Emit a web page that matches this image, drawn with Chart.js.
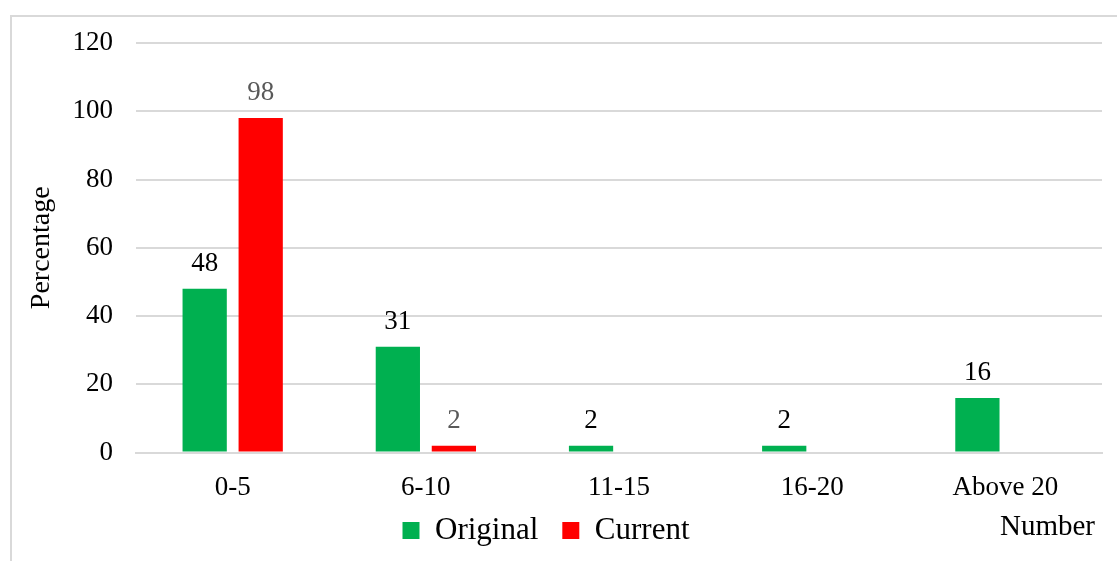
<!DOCTYPE html>
<html>
<head>
<meta charset="utf-8">
<script src="https://cdn.jsdelivr.net/npm/chart.js@4/dist/chart.umd.min.js"></script>
<style>
  html, body { margin: 0; padding: 0; background: #fff; }
  #wrap { width: 1117px; height: 561px; position: relative; }
</style>
</head>
<body>
<div id="wrap"><canvas id="myChart"></canvas></div>
<script>
const categories = ["0-5", "6-10", "11-15", "16-20", "Above 20"];
const original = [48, 31, 2, 2, 16];
const current = [98, 2, 0, 0, 0];
const yTicks = [0, 20, 40, 60, 80, 100, 120];

const serif = "'Liberation Serif', 'Times New Roman', serif";

// light frame around the whole chart
const framePlugin = {
  id: "frame",
  beforeDraw(chart) {
    const ctx = chart.ctx;
    ctx.save();
    ctx.strokeStyle = "#d9d9d9";
    ctx.lineWidth = 2;
    ctx.strokeRect(11, 16, chart.width + 20, chart.height + 20);
    ctx.restore();
  }
};

// pull the legend up under the category labels and a bit left of centre
const legendShift = {
  id: "legendShift",
  afterLayout(chart) {
    const lg = chart.legend;
    if (!lg) return;
    lg.left -= 16;
    lg.right -= 16;
    lg.top -= 13;
    lg.bottom -= 13;
  }
};

// value labels above each bar, and the "Number" title at the bottom right
const labelPlugin = {
  id: "barLabels",
  afterDatasetsDraw(chart) {
    const ctx = chart.ctx;
    ctx.save();
    ctx.font = "27px " + serif;
    ctx.textAlign = "center";
    ctx.textBaseline = "alphabetic";
    chart.data.datasets.forEach((ds, i) => {
      const meta = chart.getDatasetMeta(i);
      ctx.fillStyle = i === 0 ? "#000000" : "#595959";
      meta.data.forEach((bar, j) => {
        const v = ds.data[j];
        if (!v) return;
        ctx.fillText(String(v), bar.x, bar.y - 18);
      });
    });
    ctx.fillStyle = "#000000";
    ctx.font = "29px " + serif;
    ctx.textAlign = "right";
    ctx.textBaseline = "middle";
    ctx.fillText("Number", chart.chartArea.right - 7, chart.height - 34);
    ctx.restore();
  }
};

const data = {
  labels: categories,
  datasets: [
    {
      label: "Original",
      data: original,
      backgroundColor: "#00b050",
      categoryPercentage: 0.58,
      barPercentage: 0.79
    },
    {
      label: "Current",
      data: current,
      backgroundColor: "#ff0000",
      categoryPercentage: 0.58,
      barPercentage: 0.79
    }
  ]
};

const config = {
  type: "bar",
  data,
  plugins: [framePlugin, legendShift, labelPlugin],
  options: {
    responsive: true,
    maintainAspectRatio: false,
    animation: false,
    layout: { padding: { left: 22, right: 15, top: 43, bottom: -8 } },
    plugins: {
      tooltip: { enabled: false },
      legend: {
        position: "bottom",
        labels: {
          font: { family: serif, size: 31 },
          color: "#000000",
          boxWidth: 17,
          boxHeight: 17,
          padding: 24
        }
      }
    },
    scales: {
      x: {
        grid: { display: false, drawTicks: false },
        border: { display: true, color: "#d9d9d9", width: 2 },
        ticks: {
          font: { family: serif, size: 27 },
          color: "#000000",
          padding: 19
        },
        // only room for one padding under the labels
        afterFit(axis) {
          axis.height = 51.5;
        }
      },
      y: {
        min: 0,
        max: 120,
        afterBuildTicks(axis) {
          axis.ticks = yTicks.map(v => ({ value: v }));
        },
        grid: { color: "#d9d9d9", lineWidth: 2, drawTicks: false },
        border: { display: false },
        ticks: {
          font: { family: serif, size: 27 },
          color: "#000000",
          padding: 23
        },
        title: {
          display: true,
          text: "Percentage",
          font: { family: serif, size: 28 },
          color: "#000000",
          padding: { top: 3, bottom: -9 }
        }
      }
    }
  }
};

new Chart(document.getElementById("myChart"), config);
</script>
</body>
</html>
